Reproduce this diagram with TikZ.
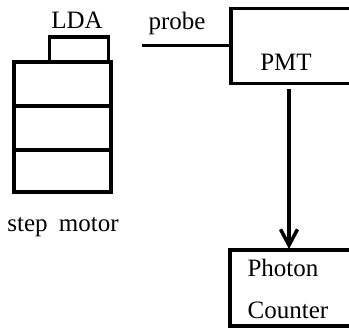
\documentclass[tikz,border=0pt]{standalone}
\usepackage{fontspec}
\usepackage{tikz}
\usetikzlibrary{arrows.meta}
\setmainfont{Liberation Serif}
\tikzset{
    blockbox/.style={draw, line width=3.5pt, inner sep=0pt, outer sep=0pt, anchor=north west},
    wire/.style={line width=3pt},
    lbl/.style={inner sep=0pt, font=\fontsize{25}{28}\selectfont}
}
\begin{document}
\begin{tikzpicture}[x=1pt,y=-1pt]
    \useasboundingbox (0,0) rectangle (349,329);

    \node[blockbox, minimum width=97pt, minimum height=44pt] (stepa) at (14,62) {};
    \node[blockbox, minimum width=97pt, minimum height=44pt] (stepb) at (14,106) {};
    \node[blockbox, minimum width=97pt, minimum height=42pt] (stepc) at (14,150) {};
    \node[blockbox, minimum width=59pt, minimum height=25pt] (lda) at (49.5,37) {};
    \node[blockbox, minimum width=140pt, minimum height=75pt] (pmt) at (231,8.5) {};
    \node[blockbox, minimum width=140pt, minimum height=76pt] (counter) at (230,250) {};

    \node[lbl] (ldat) at (77,20) {LDA};
    \node[lbl] (probet) at (177,23) {probe};
    \node[lbl] (pmtt) at (286,62) {PMT};
    \node[lbl] (motort) at (63,227) {step\hspace{0.45em}motor};
    \node[lbl] (photont) at (283,268) {Photon};
    \node[lbl] (countert) at (288,310) {Counter};

    \coordinate (probeend) at (142,46);
    \coordinate (pmtout) at (289,84);
    \coordinate (counterin) at (289,249);
    \draw[wire] (probeend) -- (pmt.west);
    \draw[line width=4pt, -{Straight Barb[length=16pt,width=17pt,line width=3.5pt]}, shorten <=5pt] (pmtout) -- (counterin);
\end{tikzpicture}
\end{document}
